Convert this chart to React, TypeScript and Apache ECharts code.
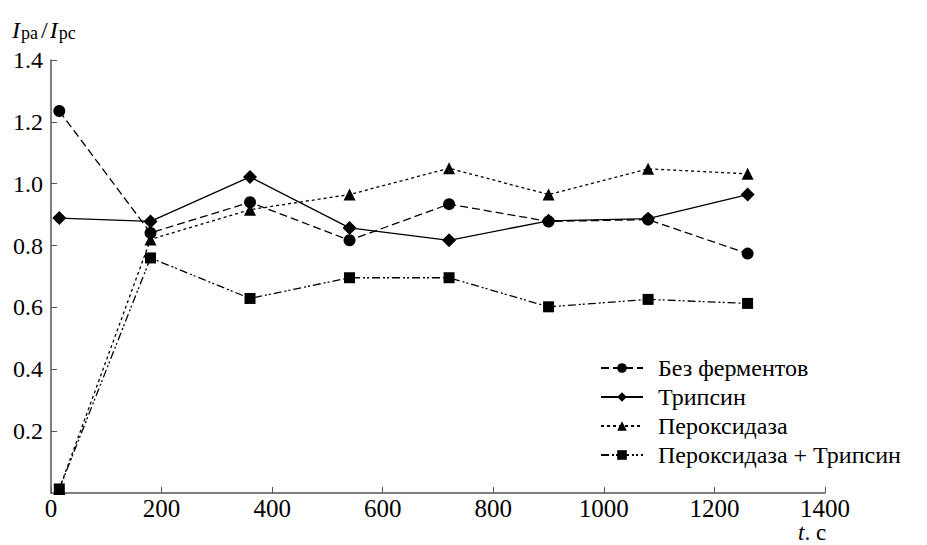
import React, { useEffect, useRef } from "react";
import * as echarts from "echarts";

const times = [15, 180, 360, 540, 720, 900, 1080, 1260];
const noEnzyme = [1.235, 0.841, 0.94, 0.817, 0.934, 0.878, 0.884, 0.774];
const trypsin = [0.889, 0.878, 1.022, 0.857, 0.817, 0.88, 0.887, 0.965];
const peroxidase = [0.013, 0.82, 0.916, 0.965, 1.05, 0.965, 1.048, 1.032];
const peroxTrypsin = [0.013, 0.76, 0.629, 0.696, 0.696, 0.602, 0.626, 0.613];
const seriesNames = ["Без ферментов", "Трипсин", "Пероксидаза", "Пероксидаза + Трипсин"];

const FONT = "Liberation Serif";
const AXIS_COLOR = "#555";

export default function App() {
  const ref = useRef<HTMLDivElement>(null);
  useEffect(() => {
    document.body.style.margin = "0";
    if (!ref.current) return;
    const chart = echarts.init(ref.current, undefined, { renderer: "svg" });
    const mk = (
      name: string,
      vals: number[],
      symbol: string,
      size: number,
      type: any
    ) => ({
      name,
      type: "line",
      data: times.map((t, i) => [t, vals[i]]),
      symbol,
      symbolSize: size,
      showAllSymbol: true,
      lineStyle: { color: "#000", width: 1.3, type },
      itemStyle: { color: "#000" },
      emphasis: { disabled: true },
    });
    chart.setOption({
      animation: false,
      backgroundColor: "#fff",
      textStyle: { fontFamily: FONT },
      grid: { left: 51, top: 60, width: 774, height: 433, containLabel: false },
      xAxis: {
        type: "value",
        min: 0,
        max: 1400,
        interval: 200,
        axisLine: { show: true, lineStyle: { color: AXIS_COLOR, width: 1.5 } },
        axisTick: { show: true, inside: true, length: 6, lineStyle: { color: AXIS_COLOR } },
        splitLine: { show: false },
        axisLabel: {
          color: "#000",
          fontFamily: FONT,
          fontSize: 25,
          lineHeight: 22,
          margin: 4,
          formatter: (v: number) => String(v),
        },
      },
      yAxis: {
        type: "value",
        min: 0,
        max: 1.4,
        interval: 0.2,
        axisLine: { show: true, lineStyle: { color: AXIS_COLOR, width: 1.5 } },
        axisTick: { show: true, inside: true, length: 6, lineStyle: { color: AXIS_COLOR } },
        splitLine: { show: false },
        axisLabel: {
          color: "#000",
          fontFamily: FONT,
          fontSize: 24,
          margin: 8,
          showMinLabel: false,
          formatter: (v: number) => v.toFixed(1),
        },
      },
      legend: {
        orient: "vertical",
        left: 595,
        top: 351,
        itemWidth: 42,
        itemHeight: 12,
        itemGap: 5,
        data: seriesNames,
        textStyle: { color: "#000", fontFamily: FONT, fontSize: 24, padding: [0, 0, 0, 10] },
      },
      graphic: [
        {
          type: "text",
          left: 12,
          top: 18,
          style: {
            text: "{i|I}{s|pa}{n|/}{i|I}{s|pc}",
            rich: {
              i: { fontFamily: FONT, fontStyle: "italic", fontSize: 24, fill: "#000", verticalAlign: "bottom", lineHeight: 26 },
              s: { fontFamily: FONT, fontSize: 18, fill: "#000", verticalAlign: "bottom", lineHeight: 21, padding: [0, 1, 0, 1] },
              n: { fontFamily: FONT, fontSize: 24, fill: "#000", verticalAlign: "bottom", lineHeight: 26, padding: [0, 2, 0, 2] },
            },
          },
        },
        {
          type: "text",
          left: 798,
          top: 521,
          style: {
            text: "{i|t}{n|. c}",
            rich: {
              i: { fontFamily: FONT, fontStyle: "italic", fontSize: 23, fill: "#000", lineHeight: 21 },
              n: { fontFamily: FONT, fontSize: 23, fill: "#000", lineHeight: 21 },
            },
          },
        },
      ],
      series: [
        mk(seriesNames[0], noEnzyme, "circle", 12, [8, 4]),
        mk(seriesNames[1], trypsin, "diamond", 14, "solid"),
        mk(seriesNames[2], peroxidase, "triangle", 12, [3, 3]),
        mk(seriesNames[3], peroxTrypsin, "rect", 11, [8, 3, 2, 2, 2, 3]),
      ],
    });
    return () => chart.dispose();
  }, []);
  return <div ref={ref} style={{ width: 927, height: 545 }} />;
}
